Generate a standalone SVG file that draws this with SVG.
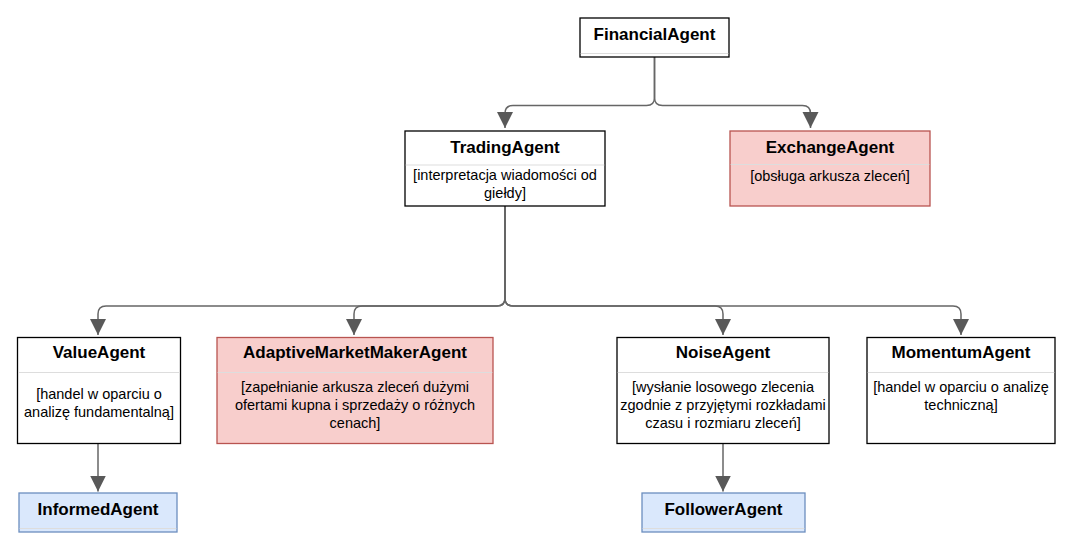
<svg xmlns="http://www.w3.org/2000/svg" width="1075" height="553" viewBox="0 0 1075 553">
<defs>
<marker id="arr" markerUnits="userSpaceOnUse" markerWidth="18" markerHeight="18" refX="16" refY="8" orient="auto">
<path d="M0,0 L16,8 L0,16 Z" fill="#595959"/>
</marker>
<style>
.box{fill:#ffffff;stroke:#000000;stroke-width:1.3}
.red{fill:#f8cecc;stroke:#b85450;stroke-width:1.3}
.blue{fill:#dae8fc;stroke:#6c8ebf;stroke-width:1.3}
.div{stroke:#dddddd;stroke-width:1.2}
.t{font-family:"Liberation Sans",Arial,sans-serif;font-weight:bold;font-size:17px;text-anchor:middle;fill:#000}
.b{font-family:"Liberation Sans",Arial,sans-serif;font-size:14.5px;text-anchor:middle;fill:#000}
.c{fill:none;stroke:#666666;stroke-width:1.5;marker-end:url(#arr)}
</style>
</defs>
<rect width="1075" height="553" fill="#ffffff"/>
<g id="connectors">
<path class="c" d="M654.5,57 V97.5 Q654.5,105.5 646.5,105.5 H513 Q505,105.5 505,113.5 V128"/>
<path class="c" d="M654.5,57 V97.5 Q654.5,105.5 662.5,105.5 H802.5 Q810.5,105.5 810.5,113.5 V128"/>
<path class="c" d="M505,206 V298 Q505,306 497,306 H106 Q98,306 98,314 V335"/>
<path class="c" d="M505,206 V298 Q505,306 497,306 H362 Q354,306 354,314 V335"/>
<path class="c" d="M505,206 V298 Q505,306 513,306 H715 Q723,306 723,314 V335"/>
<path class="c" d="M505,206 V298 Q505,306 513,306 H953 Q961,306 961,314 V335"/>
<path class="c" d="M98,443.5 V491.5"/>
<path class="c" d="M723,443.5 V491.5"/>
</g>
<g id="FinancialAgent">
<rect class="box" x="580" y="18" width="149" height="39"/>
<line class="div" x1="580.7" y1="53.5" x2="728.3" y2="53.5"/>
<text class="t" x="654.5" y="40">FinancialAgent</text>
</g>
<g id="TradingAgent">
<rect class="box" x="405" y="131" width="200" height="75"/>
<line class="div" x1="405.7" y1="165" x2="604.3" y2="165"/>
<text class="t" x="505" y="153">TradingAgent</text>
<text class="b" x="505" y="180">[interpretacja wiadomości od</text>
<text class="b" x="505" y="198">giełdy]</text>
</g>
<g id="ExchangeAgent">
<rect class="red" x="730" y="131" width="200" height="75"/>
<line class="div" x1="730.7" y1="164.5" x2="929.3" y2="164.5"/>
<text class="t" x="830" y="153">ExchangeAgent</text>
<text class="b" x="830" y="180.5">[obsługa arkusza zleceń]</text>
</g>
<g id="ValueAgent">
<rect class="box" x="17.5" y="337.5" width="163" height="106"/>
<line class="div" x1="18.2" y1="372.5" x2="179.8" y2="372.5"/>
<text class="t" x="99" y="358">ValueAgent</text>
<text class="b" x="99" y="398.5">[handel w oparciu o</text>
<text class="b" x="99" y="417">analizę fundamentalną]</text>
</g>
<g id="AdaptiveMarketMakerAgent">
<rect class="red" x="217" y="337.5" width="276" height="106"/>
<line class="div" x1="217.7" y1="372.5" x2="492.3" y2="372.5"/>
<text class="t" x="355" y="358">AdaptiveMarketMakerAgent</text>
<text class="b" x="355" y="392">[zapełnianie arkusza zleceń dużymi</text>
<text class="b" x="355" y="410">ofertami kupna i sprzedaży o różnych</text>
<text class="b" x="355" y="428">cenach]</text>
</g>
<g id="NoiseAgent">
<rect class="box" x="617" y="337.5" width="212" height="106"/>
<line class="div" x1="617.7" y1="372.5" x2="828.3" y2="372.5"/>
<text class="t" x="723" y="358">NoiseAgent</text>
<text class="b" x="723" y="392">[wysłanie losowego zlecenia</text>
<text class="b" x="723" y="410">zgodnie z przyjętymi rozkładami</text>
<text class="b" x="723" y="428">czasu i rozmiaru zleceń]</text>
</g>
<g id="MomentumAgent">
<rect class="box" x="867" y="337.5" width="188" height="106"/>
<line class="div" x1="867.7" y1="372.5" x2="1054.3" y2="372.5"/>
<text class="t" x="961" y="358">MomentumAgent</text>
<text class="b" x="961" y="392">[handel w oparciu o analizę</text>
<text class="b" x="961" y="410">techniczną]</text>
</g>
<g id="InformedAgent">
<rect class="blue" x="19" y="493" width="158" height="39"/>
<line class="div" x1="19.7" y1="528.5" x2="176.3" y2="528.5"/>
<text class="t" x="98" y="515">InformedAgent</text>
</g>
<g id="FollowerAgent">
<rect class="blue" x="642" y="493" width="163" height="39"/>
<line class="div" x1="642.7" y1="528.5" x2="804.3" y2="528.5"/>
<text class="t" x="723.5" y="515">FollowerAgent</text>
</g>
</svg>
